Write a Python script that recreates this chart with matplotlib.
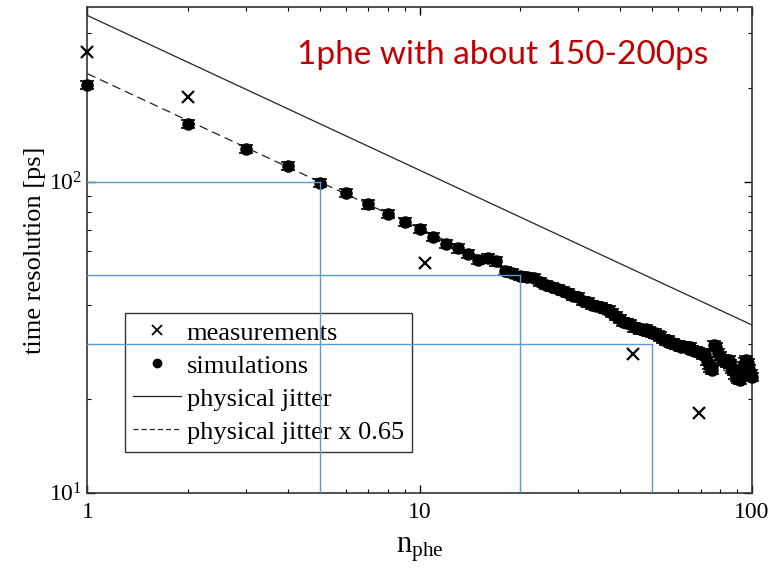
import matplotlib
matplotlib.use("Agg")
import matplotlib.pyplot as plt
from matplotlib.lines import Line2D

# data
meas_n = [1, 2, 10.4, 43.8, 69.5]
meas_t = [261, 187, 54.6, 27.9, 18.1]

sim_n = list(range(1, 101))
sim_t = [204, 153, 127, 112, 99, 92, 84.5, 78.5, 74, 70.3,
         66.3, 63, 61, 58.5, 56, 56.7, 55.4, 51.8, 51, 49.7,
         49.2, 48.9, 47.5, 46.6, 45.8, 45.3, 44.6, 43.8, 43, 42.5,
         41.3, 40.9, 40.2, 39.8, 39.5, 38.9, 38.6, 37.9, 37.0, 36.2,
         35.5, 35.1, 34.8, 34.0, 33.8, 33.5, 33.4, 33.6, 33.0, 32.6,
         32.5, 32.2, 31.8, 31.2, 30.8, 30.9, 30.3, 30.2, 29.8, 29.9,
         29.5, 29.7, 29.3, 29.4, 29.4, 28.8, 28.5, 28.6, 28.4, 28.1,
         27.8, 28.0, 26.5, 25.8, 25.2, 24.8, 29.9, 29.5, 28.2, 27.5,
         27.0, 26.6, 26.8, 26.2, 26.7, 25.9, 25.0, 24.6, 24.0, 23.5,
         23.2, 23.0, 24.1, 25.5, 26.3, 26.7, 26.2, 25.0, 24.0, 23.6]
sim_err_frac = 0.03

jitter_n = [1, 100]
jitter_t = [342, 34.6]
jitter_scale = 0.65

# blue guide lines: (n, time)
guides = [(5, 100), (20, 50), (50, 30)]

plt.rcParams['font.family'] = ['Liberation Serif', 'DejaVu Serif']
plt.rcParams['mathtext.fontset'] = 'custom'
plt.rcParams['mathtext.rm'] = 'Liberation Serif'
plt.rcParams['mathtext.it'] = 'Liberation Serif:italic'

fig = plt.figure(figsize=(7.75, 5.76), dpi=100)
ax = fig.add_axes([0.1129, 0.1446, 0.8574, 0.8424])

ax.set_xscale('log')
ax.set_yscale('log')
ax.set_xlim(1, 100)
ax.set_ylim(10, 363)

ink = '#222222'
ax.plot(jitter_n, jitter_t, color=ink, lw=0.9)
ax.plot(jitter_n, [t * jitter_scale for t in jitter_t], color=ink, lw=0.9,
        dashes=(7, 4))
ax.errorbar(sim_n, sim_t, yerr=[t * sim_err_frac for t in sim_t], fmt='o',
            color='black', ms=8, capsize=5, elinewidth=1.2, capthick=1.2,
            clip_on=False, zorder=3)
ax.plot(meas_n, meas_t, 'x', color='black', ms=9, mew=1.6,
        clip_on=False, zorder=4)

blue = '#5B9BD5'
for gn, gt in guides:
    ax.plot([1, gn], [gt, gt], color=blue, lw=1, zorder=7)
    ax.plot([gn, gn], [10, gt], color=blue, lw=1, zorder=7)

ax.set_xticks([1, 10, 100])
ax.set_xticklabels(['1', '10', '100'])
ax.tick_params(which='both', direction='in', top=True, right=True, labelsize=17)
ax.tick_params(which='major', length=6, width=1)
ax.tick_params(which='minor', length=3.2, width=0.8)
ax.tick_params(axis='x', pad=7)
ax.tick_params(axis='y', pad=4)
for s in ax.spines.values():
    s.set_color('#333333')
    s.set_linewidth(1.2)

ax.set_ylabel('time resolution [ps]', fontsize=19, labelpad=2)
ax.set_xlabel(r'$\mathrm{n}_{\mathrm{phe}}$', fontsize=22, labelpad=8)

handles = [
    Line2D([], [], ls='none', marker='x', color='black', ms=6.5, mew=1.3),
    Line2D([], [], ls='none', marker='o', color='black', ms=6),
    Line2D([], [], color=ink, lw=0.9),
    Line2D([], [], color=ink, lw=0.9, dashes=(4, 2.5)),
]
labels = ['measurements', 'simulations', 'physical jitter', 'physical jitter x 0.65']
leg = ax.legend(handles, labels, loc='lower left',
                bbox_to_anchor=(0.0564, 0.0839),
                borderaxespad=0, fancybox=False, edgecolor='#333333',
                framealpha=1, fontsize=19, handlelength=1.8,
                handletextpad=0.22, labelspacing=0.36, borderpad=0.32)
leg.get_frame().set_linewidth(1)
leg.set_zorder(5)

fig.text(0.648, 0.9045, '1phe with about 150-200ps', color='#C00000',
         fontsize=24, family=['Lato', 'DejaVu Sans'], ha='center', va='center')

fig.savefig('out.png', dpi=100)
